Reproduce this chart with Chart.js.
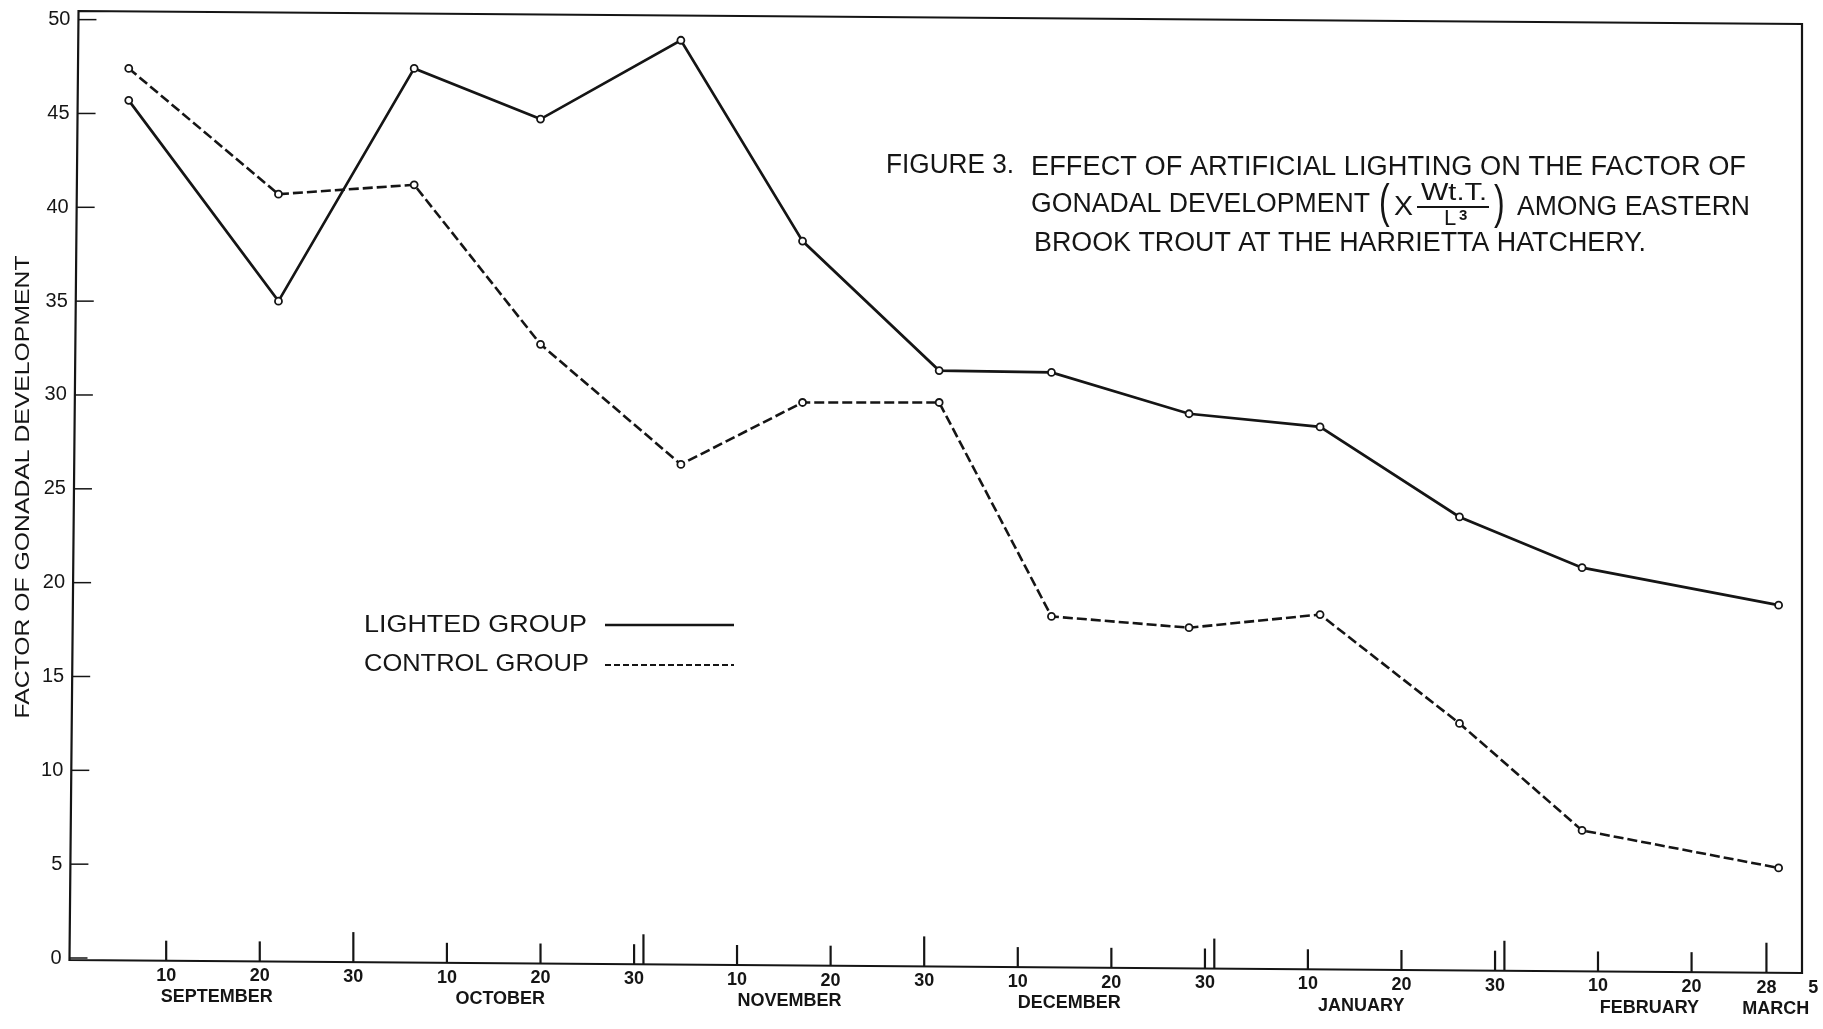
<!DOCTYPE html>
<html lang="en">
<head>
    <script src="https://cdn.jsdelivr.net/npm/chart.js"></script>
    <style>
        html, body { margin: 0; padding: 0; background: #fff; }
    </style>
</head>
<body>

    <canvas id="gonadChart" width="1823" height="1029"></canvas>

    <script>
        // sampling dates, as days counted from September 1
        const sampleDays = [5, 21, 35.5, 49, 64, 77, 91.6, 103.6, 118.3, 132.3, 147.2, 160.3, 181.3];
        const lightedValues = [45.7, 35.0, 47.4, 44.7, 48.9, 38.2, 31.3, 31.2, 29.0, 28.3, 23.5, 20.8, 18.8];
        const controlValues = [47.4, 40.7, 41.2, 32.7, 26.3, 29.6, 29.6, 18.2, 17.6, 18.3, 12.5, 6.8, 4.8];

        const yTicks = [0, 5, 10, 15, 20, 25, 30, 35, 40, 45, 50];
        const dayTicks = [9, 19, 29, 39, 49, 59, 70, 80, 90, 100, 110, 120, 131, 141, 151, 162, 172, 180, 185];
        const dayTickLabels = ['10', '20', '30', '10', '20', '30', '10', '20', '30', '10', '20', '30', '10', '20', '30', '10', '20', '28', '5'];
        const monthEndDays = [29, 60, 90, 121, 152, 180];
        const monthNames = ['SEPTEMBER', 'OCTOBER', 'NOVEMBER', 'DECEMBER', 'JANUARY', 'FEBRUARY', 'MARCH'];
        const monthLabelDays = [14.4, 44.7, 75.6, 105.5, 136.7, 167.5, 181];

        const INK = '#151515';
        const FONT = '"Liberation Sans", Arial, sans-serif';
        const FRAME_DROP = 13;   // the scanned sheet sits slightly rotated
        const FRAME_LEAN = 9;

        // write text squeezed/stretched to a given width
        function fitText(c, text, x, y, width, font, align = 'left') {
            c.save();
            c.font = font;
            const w = c.measureText(text).width;
            const k = width / w;
            c.translate(align === 'center' ? x - width / 2 : x, y);
            c.scale(k, 1);
            c.textAlign = 'left';
            c.fillText(text, 0, 0);
            c.restore();
        }

        // tall thin bracket for the formula
        function bracket(c, ch, x, y) {
            c.save();
            c.font = '32px ' + FONT;
            c.translate(x, y);
            c.scale(1, 1.45);
            c.textAlign = 'left';
            c.fillText(ch, 0, 0);
            c.restore();
        }

        const decor = {
            id: 'decor',
            afterDraw(chart) {
                const c = chart.ctx;
                const a = chart.chartArea;
                const xs = chart.scales.x, ys = chart.scales.y;
                const dropAt = x => (x - a.left) / (a.right - a.left) * FRAME_DROP;
                const leanAt = y => (a.bottom - y) / (a.bottom - a.top) * FRAME_LEAN - FRAME_LEAN / 2;

                c.save();
                c.strokeStyle = INK;
                c.fillStyle = INK;
                c.textBaseline = 'middle';

                // frame
                c.lineWidth = 2.2;
                c.beginPath();
                c.moveTo(a.left + leanAt(a.top - 3), a.top - 3);
                c.lineTo(a.right, a.top - 3 + FRAME_DROP);
                c.lineTo(a.right, a.bottom + 2 + FRAME_DROP);
                c.lineTo(a.left + leanAt(a.bottom + 2), a.bottom + 2);
                c.closePath();
                c.stroke();

                // y ticks, drawn inward
                c.lineWidth = 1.5;
                c.font = '20px ' + FONT;
                c.textAlign = 'right';
                yTicks.forEach(v => {
                    const py = ys.getPixelForValue(v);
                    const px = a.left + leanAt(py);
                    c.beginPath();
                    c.moveTo(px, py);
                    c.lineTo(px + 18, py);
                    c.stroke();
                    c.fillText(String(v), px - 8, py);
                });

                // x ticks rise from the base line
                c.lineWidth = 2.2;
                c.textAlign = 'center';
                c.font = 'bold 18px ' + FONT;
                dayTicks.forEach((d, i) => {
                    const px = xs.getPixelForValue(d);
                    const base = a.bottom + 2 + dropAt(px);
                    if (d <= xs.max) {
                        const h = monthEndDays.includes(d) ? 30 : 20;
                        c.beginPath();
                        c.moveTo(px, base);
                        c.lineTo(px, base - h);
                        c.stroke();
                    }
                    c.fillText(dayTickLabels[i], px, base + 15);
                });
                monthEndDays.filter(d => !dayTicks.includes(d)).forEach(d => {
                    const px = xs.getPixelForValue(d);
                    const base = a.bottom + 2 + dropAt(px);
                    c.beginPath();
                    c.moveTo(px, base);
                    c.lineTo(px, base - 30);
                    c.stroke();
                });

                c.font = 'bold 18px ' + FONT;
                monthNames.forEach((m, i) => {
                    const px = xs.getPixelForValue(monthLabelDays[i]);
                    c.fillText(m, px, a.bottom + 38 + dropAt(px));
                });

                // y axis title
                c.save();
                c.translate(23, 487);
                c.rotate(-Math.PI / 2);
                fitText(c, 'FACTOR OF GONADAL DEVELOPMENT', 0, 0, 463, '21px ' + FONT, 'center');
                c.restore();

                // figure caption
                const cap = '27px ' + FONT;
                fitText(c, 'FIGURE 3.', 886, 166, 128, cap);
                fitText(c, 'EFFECT OF ARTIFICIAL LIGHTING ON THE FACTOR OF', 1031, 168, 715, cap);
                fitText(c, 'GONADAL DEVELOPMENT', 1031, 205, 339, cap);
                fitText(c, 'AMONG EASTERN', 1517, 208, 233, cap);
                fitText(c, 'BROOK TROUT AT THE HARRIETTA HATCHERY.', 1034, 244, 612, cap);

                // (X Wt.T. / L³)
                bracket(c, '(', 1379, 204);
                bracket(c, ')', 1494, 205);
                fitText(c, 'X', 1394, 208, 19, cap);
                fitText(c, 'Wt.T.', 1421, 194, 66, '23px ' + FONT);
                c.lineWidth = 1.8;
                c.beginPath();
                c.moveTo(1417, 207);
                c.lineTo(1489, 207);
                c.stroke();
                c.textAlign = 'left';
                c.font = '22px ' + FONT;
                c.fillText('L', 1444, 219);
                c.font = 'bold 15px ' + FONT;
                c.fillText('3', 1459, 216);

                // legend
                const lg = '24px ' + FONT;
                fitText(c, 'LIGHTED GROUP', 364, 625, 223, lg);
                fitText(c, 'CONTROL GROUP', 364, 664, 225, lg);
                c.lineWidth = 2.6;
                c.beginPath();
                c.moveTo(605, 625);
                c.lineTo(734, 625);
                c.stroke();
                c.lineWidth = 2.2;
                c.setLineDash([6, 3]);
                c.beginPath();
                c.moveTo(605, 665);
                c.lineTo(734, 665);
                c.stroke();

                c.restore();
            }
        };

        const ctx = document.getElementById('gonadChart').getContext('2d');

        const pointStyle = {
            pointRadius: 3.5,
            pointBackgroundColor: '#fff',
            pointBorderColor: INK,
            pointBorderWidth: 1.8,
            borderColor: INK,
            tension: 0,
            fill: false
        };

        new Chart(ctx, {
            type: 'line',
            data: {
                datasets: [
                    {
                        label: 'LIGHTED GROUP',
                        data: sampleDays.map((d, i) => ({ x: d, y: lightedValues[i] })),
                        borderWidth: 2.7,
                        ...pointStyle
                    },
                    {
                        label: 'CONTROL GROUP',
                        data: sampleDays.map((d, i) => ({ x: d, y: controlValues[i] })),
                        borderWidth: 2.6,
                        borderDash: [10, 4],
                        ...pointStyle
                    }
                ]
            },
            options: {
                responsive: false,
                animation: false,
                devicePixelRatio: 1,
                layout: { padding: { left: 74, top: 14, right: 21, bottom: 71 } },
                scales: {
                    x: { type: 'linear', min: -0.85, max: 183.8, display: false },
                    y: { type: 'linear', min: 0, max: 50.3, display: false }
                },
                plugins: {
                    legend: { display: false },
                    tooltip: { enabled: false }
                }
            },
            plugins: [decor]
        });
    </script>

</body>
</html>
